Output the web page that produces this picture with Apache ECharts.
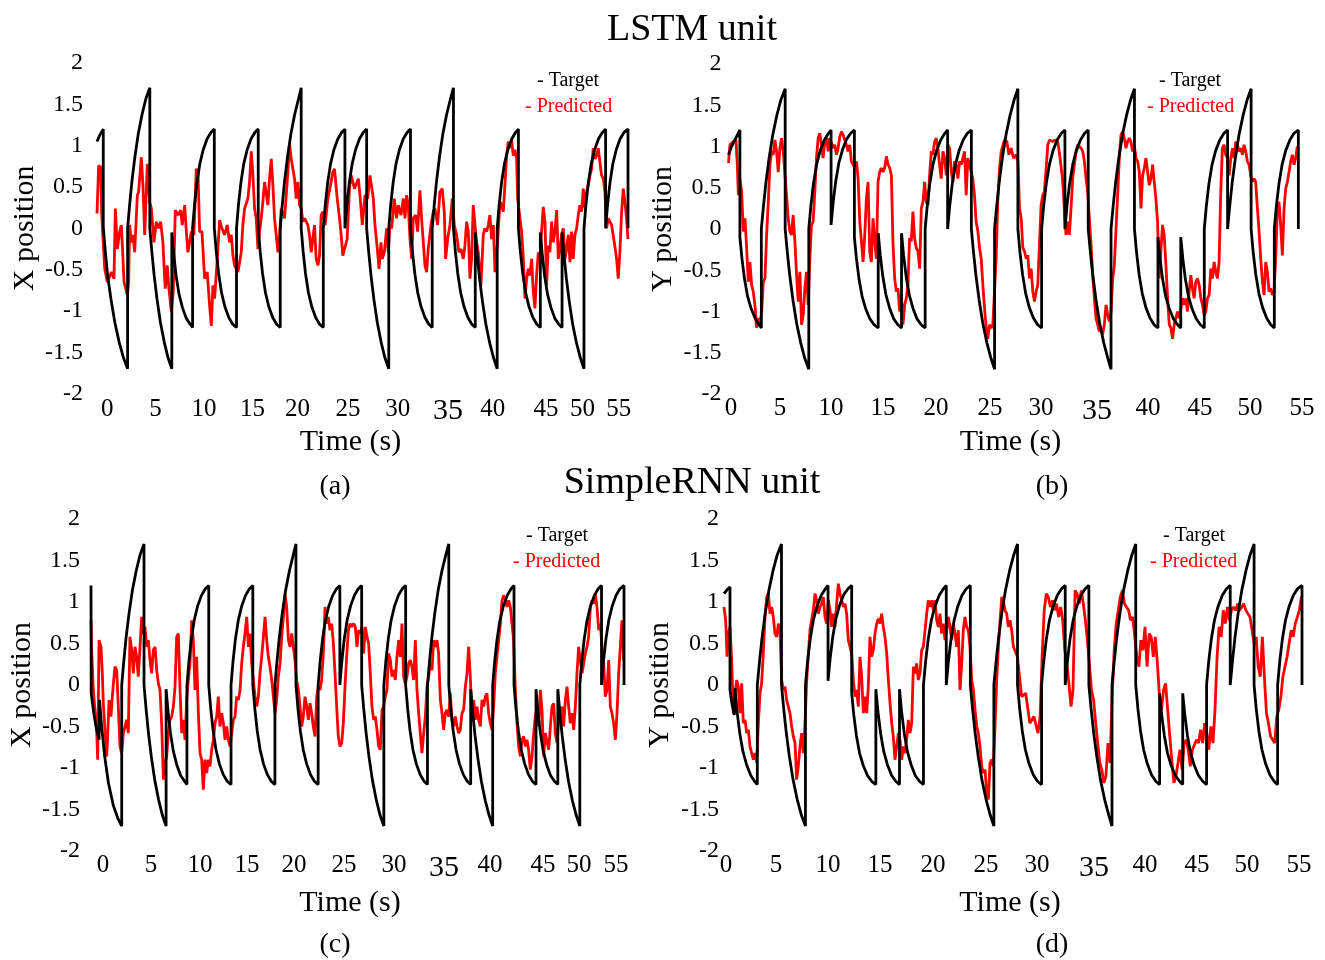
<!DOCTYPE html>
<html>
<head>
<meta charset="utf-8">
<script src="https://cdn.jsdelivr.net/npm/echarts@6/dist/echarts.min.js"></script>
<style>html,body{margin:0;padding:0;background:#fff;}#chart{width:1325px;height:960px;}</style>
</head>
<body>
<div id="chart"></div>
<script>
// ---------- tick labels ----------
const xTickLabels = ['0','5','10','15','20','25','30','35','40','45','50','55'];
const xTickPosA = [1.07, 6.06, 11.08, 16.1, 20.78, 26.0, 31.15, 36.35, 41.0, 46.5, 50.3, 54.03];
const xTickPosB = [0.24, 4.97, 9.89, 14.91, 20.03, 25.24, 30.16, 35.57, 40.49, 45.51, 50.34, 55.36];
const xTickPosC = [1.24, 6.19, 11.25, 16.1, 20.95, 26.11, 31.27, 36.43, 41.18, 46.65, 50.36, 54.18];
const xTickPosD = [0.19, 4.95, 9.9, 14.84, 19.89, 24.93, 29.78, 35.2, 40.06, 45.0, 49.76, 54.71];

// ---------- target trajectories ----------
// sample times of each movement segment (shared by X and Y targets)
const segTimes = [
[3.17,3.37,3.62,3.92,4.27,4.67,5.07,5.47],
[5.47,5.67,5.92,6.22,6.57,6.97,7.37,7.75],
[7.75,7.95,8.2,8.5,8.85,9.25,9.65,9.9],
[9.9,10.1,10.35,10.65,11.0,11.4,11.8,12.15],
[12.15,12.35,12.6,12.9,13.25,13.65,14.05,14.45],
[14.45,14.65,14.9,15.2,15.55,15.95,16.35,16.7],
[16.7,16.9,17.15,17.45,17.8,18.2,18.6,18.98],
[18.98,19.18,19.43,19.73,20.08,20.48,20.88,21.15],
[21.15,21.35,21.6,21.9,22.25,22.65,23.05,23.44],
[23.44,23.64,23.89,24.19,24.54,24.94,25.34,25.68],
[25.68,25.88,26.13,26.43,26.78,27.18,27.58,27.93],
[27.93,28.13,28.38,28.68,29.03,29.43,29.83,30.22],
[30.22,30.42,30.67,30.97,31.32,31.72,32.12,32.47],
[32.47,32.67,32.92,33.22,33.57,33.97,34.37,34.72],
[34.72,34.92,35.17,35.47,35.82,36.22,36.62,36.92],
[36.92,37.12,37.37,37.67,38.02,38.42,38.82,39.18],
[39.18,39.38,39.63,39.93,40.28,40.68,41.08,41.45],
[41.45,41.65,41.9,42.2,42.55,42.95,43.35,43.65],
[43.65,43.85,44.1,44.4,44.75,45.15,45.55,45.92],
[45.92,46.12,46.37,46.67,47.02,47.42,47.82,48.17],
[48.17,48.37,48.62,48.92,49.27,49.67,50.07,50.44],
[50.44,50.64,50.89,51.19,51.54,51.94,52.34,52.68],
[52.68,52.88,53.13,53.43,53.78,54.18,54.58,55.0]
];
// values read along each segment type
const P12 = [0, 0.28, 0.55, 0.78, 0.95, 1.08, 1.16, 1.2];
const N12 = [0, -0.28, -0.55, -0.78, -0.95, -1.08, -1.16, -1.2];
const P17 = [0, 0.27, 0.57, 0.86, 1.14, 1.38, 1.57, 1.7];
const N17 = [0, -0.27, -0.57, -0.86, -1.14, -1.38, -1.57, -1.7];
const N12b = [-0.05, -0.32, -0.58, -0.8, -0.96, -1.09, -1.16, -1.2];
const N12c = [-0.1, -0.36, -0.61, -0.82, -0.97, -1.09, -1.16, -1.2];
const N17b = [-0.05, -0.32, -0.61, -0.89, -1.16, -1.39, -1.57, -1.7];
const P12b = [0.05, 0.32, 0.58, 0.8, 0.96, 1.09, 1.16, 1.2];

const targetXSegs = [P17, N17, N12b, P12, N12, P12, N12, P17, N12, P12, P12, N17, P12, N12, P17, N12, N17b, P12, N12, N12b, N17b, P12, P12];
const targetYSegs = [P17, N17, P12, P12b, N12c, N12b, N12b, P12, P12, N17, P17, N12, P12, P12, N17, P17, N12, N12c, N12c, P12, P17, N12, P12];

const targetXHeadLSTM = [[0,1.05],[0.3,1.13],[0.65,1.2],[0.65,0.02],[0.85,-0.27],[1.1,-0.57],[1.45,-0.86],[1.85,-1.14],[2.3,-1.38],[2.75,-1.57],[3.17,-1.7]];
const targetYHeadLSTM = [[0,0.9],[0.3,1.0],[0.7,1.1],[1.1,1.2],[1.1,-0.1],[1.3,-0.36],[1.55,-0.61],[1.85,-0.82],[2.2,-0.97],[2.6,-1.09],[2.95,-1.16],[3.17,-1.2]];
const targetXHeadRNN = [[0,1.2],[0.02,-0.1],[0.3,-0.35],[0.55,-0.52],[0.83,-0.66],[0.88,-0.18],[1.1,-0.5],[1.4,-0.85],[1.8,-1.18],[2.3,-1.45],[2.75,-1.6],[3.17,-1.7]];
const targetYHeadRNN = [[0,1.1],[0.3,1.15],[0.57,1.18],[0.57,-0.06],[0.75,-0.22],[0.98,-0.36],[1.05,-0.04],[1.25,-0.33],[1.5,-0.58],[1.8,-0.8],[2.15,-0.96],[2.55,-1.09],[2.9,-1.16],[3.17,-1.2]];
const targetEnd = [55, 0];

// ---------- predicted trajectories ----------
const predXLSTM = [[0,0.18],[0.17,0.76],[0.38,0.74],[0.48,0.18],[0.8,-0.49],[1.07,-0.65],[1.21,-0.67],[1.49,-0.53],[1.76,-0.61],[1.9,0.24],[2.11,-0.25],[2.35,-0.04],[2.52,0.04],[2.66,-0.29],[2.8,-0.65],[3.14,-0.81],[3.28,-0.65],[3.38,0.04],[3.56,-0.17],[3.73,-0.08],[3.9,-0.29],[4.18,0.4],[4.31,0.44],[4.59,0.86],[4.76,0.52],[4.94,-0.08],[5.21,0.78],[5.45,0.32],[5.63,0.24],[5.9,-0.17],[6.14,0.08],[6.38,0],[6.59,0.08],[6.83,-0.17],[6.94,-0.45],[7.07,-0.73],[7.28,-0.45],[7.42,-0.69],[7.7,-1.01],[7.9,-0.77],[8.11,0.22],[8.39,0.16],[8.66,0.22],[8.83,0.04],[9.08,0.28],[9.28,-0.08],[9.42,-0.29],[9.77,-0.04],[10.04,-0.08],[10.28,0.72],[10.46,0.68],[10.63,-0.04],[10.87,-0.04],[11.15,-0.61],[11.42,-0.53],[11.66,-0.93],[11.84,-1.18],[12.01,-0.69],[12.18,-0.85],[12.46,-0.37],[12.7,0.1],[12.94,0],[13.22,-0.08],[13.49,0.04],[13.73,-0.17],[13.91,-0.08],[14.08,-0.33],[14.25,-0.45],[14.6,-0.53],[14.94,-0.29],[15.11,0.04],[15.29,0.24],[15.63,0.36],[15.8,0.56],[15.98,0.93],[16.15,0.64],[16.32,0.24],[16.49,0.12],[16.67,-0.25],[16.84,-0.04],[17.01,0.12],[17.18,0.32],[17.36,0.56],[17.7,0.28],[17.87,0.6],[18.05,0.84],[18.22,0.52],[18.39,0.12],[18.56,-0.08],[18.74,-0.29],[18.91,-0.08],[19.08,0.24],[19.43,0.12],[19.77,0.68],[19.94,1.03],[20.12,0.84],[20.46,0.6],[20.63,0.36],[20.81,0.56],[20.98,0.28],[21.15,0.24],[21.32,0.08],[21.5,0.12],[21.84,0.04],[22.01,-0.08],[22.19,-0.29],[22.53,0.04],[22.7,-0.37],[22.88,-0.45],[23.05,-0.33],[23.22,0.16],[23.39,0.2],[23.63,0.04],[23.91,0.36],[24.19,0.52],[24.43,0.68],[24.6,0.72],[24.88,0.36],[25.12,0.12],[25.29,-0.08],[25.46,-0.33],[25.64,-0.25],[25.91,-0.13],[26.15,0.48],[26.33,0.64],[26.67,0.48],[27.07,0.6],[27.24,0.4],[27.48,0.04],[27.76,0.4],[28.03,0.36],[28.27,0.64],[28.62,0.36],[28.79,0.04],[29.07,-0.29],[29.21,-0.49],[29.41,-0.17],[29.55,-0.37],[29.76,-0.29],[30,0],[30.17,-0.29],[30.34,0.04],[30.52,0],[30.79,0.36],[31.03,0.12],[31.21,0.28],[31.48,0.16],[31.73,0.36],[31.9,0.12],[32.07,0.4],[32.24,0.28],[32.42,-0.13],[32.59,-0.37],[32.76,0.12],[33,0.16],[33.21,-0.04],[33.45,0.46],[33.62,0.12],[33.8,-0.17],[33.97,-0.45],[34.14,-0.53],[34.31,-0.25],[34.59,0.04],[34.83,0.2],[35,0.24],[35.28,0.04],[35.52,0.44],[35.76,0.48],[35.97,0.2],[36.11,-0.37],[36.32,-0.13],[36.56,0.04],[36.8,0.36],[37.01,0.04],[37.25,-0.08],[37.49,-0.29],[37.7,-0.25],[37.94,-0.37],[38.11,-0.21],[38.28,0.08],[38.46,-0.04],[38.63,-0.61],[38.8,-0.37],[38.97,0.28],[39.15,0.04],[39.32,-0.17],[39.49,-0.29],[39.77,-0.69],[40.01,-0.08],[40.18,0],[40.36,-0.04],[40.53,0.04],[40.7,0.16],[40.87,-0.13],[41.05,0.04],[41.22,-0.53],[41.49,-0.17],[41.74,0.32],[41.91,0.28],[42.08,0.2],[42.25,0.52],[42.43,0.88],[42.6,1.05],[42.77,0.97],[42.94,1.07],[43.12,0.88],[43.29,0.95],[43.46,0.84],[43.57,0.36],[43.81,0.12],[43.98,-0.04],[44.15,-0.33],[44.33,-0.85],[44.5,-0.61],[44.67,-0.49],[44.84,-0.57],[45.02,-0.37],[45.19,-0.77],[45.36,-0.97],[45.53,-0.57],[45.71,-0.29],[45.88,-0.37],[46.05,-0.04],[46.22,0.26],[46.4,0.08],[46.57,-0.69],[46.74,-0.21],[46.91,-0.29],[47.09,0.08],[47.26,-0.17],[47.43,-0.04],[47.61,0.22],[47.78,-0.37],[47.95,-0.25],[48.12,-0.08],[48.3,0],[48.47,-0.37],[48.64,-0.25],[48.81,-0.08],[48.99,-0.41],[49.16,-0.04],[49.33,-0.37],[49.5,-0.08],[49.68,0],[49.85,0.16],[50.02,0.28],[50.19,0.2],[50.37,0.48],[50.54,0.24],[50.71,0.44],[50.88,0.52],[51.06,0.64],[51.23,0.72],[51.4,0.97],[51.57,0.84],[51.75,0.88],[51.92,0.97],[52.09,0.8],[52.26,0.64],[52.44,0.6],[52.61,0.44],[52.78,0],[52.95,0.12],[53.3,0.04],[53.58,-0.17],[53.82,-0.37],[53.99,-0.61],[54.16,-0.29],[54.34,0.2],[54.51,0.48],[54.68,0.32],[54.85,0.12],[55,-0.13]];

const predYLSTM = [[0,0.8],[0.14,1.02],[0.47,1.06],[0.72,1.08],[0.85,0.78],[0.95,0.41],[1.11,0.61],[1.27,0.45],[1.43,-0.03],[1.59,0.13],[1.75,-0.23],[1.91,-0.64],[2.07,-0.4],[2.23,-0.68],[2.39,-0.76],[2.55,-0.92],[2.71,-1.2],[2.87,-1.08],[3.03,-1.16],[3.2,-1],[3.36,-0.64],[3.52,-0.6],[3.68,-0.07],[3.84,0.33],[4,0.78],[4.16,0.94],[4.32,0.9],[4.48,1.08],[4.64,0.94],[4.8,0.69],[4.96,0.98],[5.12,1.1],[5.28,0.94],[5.44,0.94],[5.6,0.41],[5.76,0.13],[5.92,-0.03],[6.08,-0.07],[6.24,0.17],[6.41,-0.15],[6.57,-0.56],[6.73,-0.88],[6.89,-0.52],[7.05,-1.16],[7.21,-1.04],[7.37,-0.72],[7.53,-0.52],[7.69,-0.92],[7.85,-0.36],[8.01,0.05],[8.17,0.09],[8.33,0.45],[8.49,0.86],[8.65,1.1],[8.81,1.16],[8.97,1.02],[9.13,0.86],[9.3,1.06],[9.46,1.12],[9.62,0.94],[9.78,1.1],[10.1,0.98],[10.26,1.02],[10.42,0.9],[10.58,0.98],[10.74,1.12],[10.9,1.18],[11.06,1.14],[11.22,1.16],[11.38,1.02],[11.54,0.94],[11.7,1.02],[11.86,0.82],[12.02,0.78],[12.19,0.74],[12.35,0.82],[12.51,0.61],[12.67,0.09],[12.83,-0.15],[12.99,-0.4],[13.15,-0.07],[13.31,0.37],[13.47,0.57],[13.63,-0.27],[13.79,-0.4],[13.95,0.13],[14.11,-0.15],[14.27,-0.36],[14.43,0.57],[14.59,0.69],[14.75,0.74],[14.91,0.69],[15.07,0.74],[15.24,0.88],[15.4,0.78],[15.56,0.74],[15.72,0.65],[15.88,-0.19],[16.04,-0.6],[16.2,-0.76],[16.36,-0.72],[16.52,-1],[16.68,-0.8],[16.84,-1.16],[17,-0.92],[17.16,-0.84],[17.32,-0.68],[17.48,-0.11],[17.64,-0.15],[17.8,0.21],[17.96,-0.11],[18.12,-0.23],[18.29,-0.27],[18.45,-0.48],[18.61,0.25],[18.77,0.33],[18.93,0.57],[19.09,0.33],[19.25,0.29],[19.41,0.65],[19.57,0.94],[19.73,0.9],[19.89,1.06],[20.05,1.1],[20.21,0.98],[20.37,0.78],[20.53,0.61],[20.7,0.94],[20.86,0.86],[21.02,0.65],[21.18,1.02],[21.34,0.98],[21.5,0.69],[21.66,0.57],[21.82,0.82],[21.98,0.78],[22.14,0.61],[22.3,0.82],[22.46,0.78],[22.62,0.86],[22.78,0.94],[22.94,0.41],[23.1,0.86],[23.26,0.78],[23.42,0.69],[23.58,0.61],[23.74,0.41],[23.9,0.09],[24.07,-0.03],[24.23,-0.23],[24.39,-0.36],[24.55,-0.68],[24.71,-0.96],[24.87,-1.2],[25.03,-1.33],[25.19,-1.16],[25.35,-1.2],[25.51,-1.16],[25.67,-0.76],[25.83,-0.36],[25.99,0.33],[26.16,0.74],[26.32,0.94],[26.64,1.08],[26.87,1.06],[27.06,0.9],[27.28,0.98],[27.51,0.86],[27.77,0.9],[27.93,0.82],[28.09,0.25],[28.25,0.13],[28.41,-0.23],[28.57,-0.27],[28.73,-0.36],[28.89,-0.32],[29.05,-0.6],[29.21,-0.48],[29.37,-0.76],[29.53,-0.88],[29.69,-0.76],[29.85,-0.68],[30.01,-0.19],[30.17,0.29],[30.33,0.41],[30.49,0.45],[30.66,0.74],[30.82,1.02],[30.98,1.08],[31.3,1.06],[31.55,1.08],[31.78,1.06],[32,0.86],[32.2,0.65],[32.33,0.45],[32.45,0.13],[32.58,-0.07],[32.74,0.09],[32.9,-0.07],[33.06,0.25],[33.22,0.61],[33.38,0.78],[33.55,0.94],[33.71,1.02],[33.87,1.04],[34.03,0.98],[34.19,0.94],[34.35,0.82],[34.51,0.61],[34.67,0.45],[34.83,0.13],[34.99,-0.19],[35.15,-0.56],[35.31,-0.84],[35.47,-1.08],[35.63,-1.16],[35.79,-1.24],[35.95,-1.2],[36.11,-1.28],[36.27,-1.16],[36.44,-0.92],[36.6,-1.04],[36.76,-1.12],[36.92,-1],[37.08,-0.6],[37.24,-0.44],[37.4,0],[37.56,0.41],[37.72,0.86],[37.88,1.14],[38.04,1.18],[38.2,1.1],[38.36,0.98],[38.52,1.06],[38.68,1.1],[38.84,1.06],[39,0.94],[39.16,1.02],[39.33,0.86],[39.49,0.82],[39.65,0.69],[39.81,0.25],[39.97,0.65],[40.13,0.74],[40.29,0.86],[40.45,0.86],[40.61,0.53],[40.77,0.61],[40.93,0.78],[41.09,0.57],[41.25,0.37],[41.41,0.09],[41.57,-0.6],[41.73,-0.27],[41.89,0.05],[42.05,-0.07],[42.22,-0.44],[42.38,-0.84],[42.54,-1.16],[42.7,-1.2],[42.86,-1.33],[43.02,-1.16],[43.18,-1.08],[43.34,-1],[43.5,-1.08],[43.66,-0.96],[43.82,-0.84],[43.98,-0.92],[44.14,-0.84],[44.3,-1],[44.46,-0.76],[44.62,-0.56],[44.78,-0.72],[44.94,-0.84],[45.1,-0.64],[45.27,-0.6],[45.43,-0.68],[45.59,-0.84],[45.75,-0.92],[45.91,-1.04],[46.07,-1],[46.23,-0.84],[46.39,-0.8],[46.55,-0.48],[46.71,-0.6],[46.87,-0.4],[47.03,-0.52],[47.19,-0.6],[47.35,-0.4],[47.51,0.45],[47.67,0.98],[47.83,1.02],[47.99,0.9],[48.16,0.86],[48.32,0.65],[48.48,0.86],[48.64,0.98],[48.8,0.86],[48.96,1.06],[49.12,1.02],[49.28,0.94],[49.44,0.98],[49.6,0.9],[49.76,1.02],[49.92,0.94],[50.08,0.82],[50.24,0.78],[50.4,0.65],[50.56,0.57],[50.72,0.61],[50.88,0.57],[51.05,0.25],[51.21,-0.03],[51.37,-0.36],[51.53,-0.64],[51.69,-0.8],[51.85,-0.4],[52.01,-0.52],[52.17,-0.76],[52.33,-0.72],[52.49,-0.8],[52.65,-0.76],[52.81,-0.36],[52.97,0.21],[53.13,0.33],[53.29,0.05],[53.46,-0.32],[53.62,0.25],[53.78,0.49],[53.94,0.57],[54.1,0.69],[54.26,0.82],[54.42,0.9],[54.58,0.78],[54.74,0.86],[54.9,1.0]];

const predXRNN = [[0,0.78],[0.05,0.46],[0.24,-0.06],[0.41,-0.06],[0.58,-0.54],[0.69,-0.9],[0.83,0.54],[1.03,0.46],[1.17,0.14],[1.27,-0.22],[1.44,-0.54],[1.62,-0.86],[1.72,-0.62],[1.86,-0.18],[2.06,-0.38],[2.2,-0.14],[2.34,0.06],[2.48,0.22],[2.65,0.18],[2.82,-0.26],[2.99,-0.74],[3.16,-0.82],[3.34,-0.58],[3.51,-0.5],[3.68,-0.42],[3.85,-0.58],[4.02,0.58],[4.2,0.42],[4.37,0.14],[4.54,0.46],[4.71,0.34],[4.88,0.1],[5.06,0.46],[5.23,0.82],[5.4,0.62],[5.57,0.7],[5.75,0.46],[5.92,0.54],[6.09,0.3],[6.26,0.14],[6.43,0.42],[6.61,0.46],[6.78,0.18],[6.95,0.02],[7.12,-0.06],[7.29,-0.46],[7.47,-1.14],[7.64,-0.94],[7.81,-0.86],[7.98,-0.58],[8.15,-0.42],[8.33,-0.38],[8.5,-0.26],[8.67,-0.02],[8.84,0.58],[9.01,0.62],[9.19,-0.06],[9.36,-0.58],[9.53,-0.42],[9.7,-0.66],[9.87,-0.18],[10.04,0.06],[10.22,0.26],[10.39,0.78],[10.56,0.54],[10.73,-0.06],[10.9,0.34],[11.08,-0.34],[11.25,-0.82],[11.42,-0.9],[11.59,-1.26],[11.76,-0.9],[11.94,-1.06],[12.11,-0.9],[12.28,-0.98],[12.45,-0.78],[12.63,-0.66],[12.8,-0.46],[12.97,-0.38],[13.14,-0.14],[13.31,-0.5],[13.49,-0.34],[13.66,-0.46],[13.83,-0.66],[14,-0.5],[14.17,-0.66],[14.35,-0.74],[14.52,-0.58],[14.69,-0.42],[14.86,-0.38],[15.03,-0.14],[15.21,-0.18],[15.38,-0.06],[15.55,0.26],[15.72,0.46],[15.89,0.62],[16.07,0.82],[16.24,0.46],[16.41,0.62],[16.58,0.26],[16.75,0.06],[16.93,-0.14],[17.1,-0.26],[17.27,-0.14],[17.44,0.14],[17.61,0.34],[17.79,0.58],[17.96,0.82],[18.13,0.54],[18.3,0.34],[18.47,0.22],[18.65,0.06],[18.82,-0.14],[18.99,-0.34],[19.16,-0.18],[19.33,0.1],[19.51,0.26],[19.68,0.58],[19.85,0.82],[20.02,1.1],[20.19,0.94],[20.37,0.54],[20.54,0.46],[20.71,0.62],[20.88,0.46],[21.05,0.3],[21.22,0.06],[21.4,-0.06],[21.57,-0.26],[21.74,-0.5],[21.91,-0.38],[22.08,-0.14],[22.26,-0.26],[22.43,-0.42],[22.6,-0.22],[22.77,-0.34],[22.94,-0.5],[23.12,-0.62],[23.29,-0.14],[23.46,-0.02],[23.63,-0.06],[23.8,0.06],[23.98,0.38],[24.15,0.94],[24.32,0.74],[24.49,0.82],[24.66,0.66],[24.84,0.74],[25.01,0.5],[25.18,0.14],[25.35,-0.26],[25.52,-0.62],[25.7,-0.74],[25.87,-0.7],[26.04,-0.46],[26.21,-0.02],[26.38,0.34],[26.56,0.66],[26.73,0.74],[26.9,0.7],[27.1,0.74],[27.27,0.7],[27.45,0.46],[27.62,0.66],[27.79,0.62],[27.96,0.7],[28.13,0.38],[28.31,0.7],[28.48,0.58],[28.65,0.5],[28.82,0.14],[28.99,-0.26],[29.17,-0.42],[29.34,-0.38],[29.51,-0.54],[29.68,-0.74],[29.85,-0.78],[30.03,-0.3],[30.2,-0.26],[30.37,-0.14],[30.54,-0.06],[30.71,0.38],[30.89,0.3],[31.06,0.1],[31.23,0.18],[31.4,0.06],[31.57,0.34],[31.75,0.54],[31.92,0.34],[32.09,0.74],[32.26,0.1],[32.43,0.02],[32.61,0.1],[32.78,0.26],[32.95,0.3],[33.12,0.22],[33.29,0.06],[33.47,0.54],[33.64,-0.06],[33.81,-0.34],[33.98,-0.58],[34.15,-0.82],[34.33,-0.58],[34.5,-0.38],[34.67,-0.02],[34.84,0.1],[35.01,0.26],[35.19,0.18],[35.36,0.54],[35.53,0.46],[35.7,0.54],[35.87,0.38],[36.05,-0.18],[36.22,-0.34],[36.39,-0.54],[36.56,-0.34],[36.73,-0.3],[36.91,-0.38],[37.08,-0.1],[37.25,-0.42],[37.42,-0.5],[37.59,-0.38],[37.77,-0.5],[37.94,-0.58],[38.11,-0.54],[38.28,-0.34],[38.45,-0.3],[38.63,-0.02],[38.8,0.14],[38.97,0.46],[39.14,0.1],[39.31,-0.38],[39.49,-0.18],[39.66,-0.42],[39.83,-0.26],[40,-0.42],[40.17,-0.5],[40.35,-0.18],[40.52,-0.26],[40.69,-0.14],[40.86,-0.1],[41.03,-0.34],[41.21,-0.46],[41.38,-0.54],[41.55,-0.26],[41.72,0.14],[41.89,0.34],[42.07,0.54],[42.24,0.74],[42.41,1.02],[42.58,1.08],[42.75,1.02],[42.93,0.94],[43.1,1.02],[43.27,0.94],[43.44,0.74],[43.61,0.54],[43.79,-0.06],[43.96,-0.46],[44.13,-0.74],[44.3,-0.86],[44.47,-0.66],[44.65,-0.62],[44.82,-0.74],[44.99,-0.66],[45.16,-0.78],[45.33,-1.02],[45.51,-0.86],[45.68,-0.58],[45.85,-0.38],[46.02,-0.26],[46.19,-0.5],[46.37,-0.06],[46.54,-0.3],[46.71,-0.86],[46.88,-0.58],[47.05,-0.58],[47.23,-0.78],[47.4,-0.5],[47.57,-0.26],[47.74,-0.22],[47.91,-0.58],[48.09,-0.7],[48.26,-0.42],[48.43,-0.34],[48.6,-0.26],[48.77,-0.5],[48.95,-0.18],[49.12,-0.02],[49.29,-0.26],[49.46,-0.46],[49.63,-0.34],[49.81,-0.54],[49.98,-0.26],[50.15,0.14],[50.32,0.46],[50.49,0.3],[50.67,0.14],[50.84,0.26],[51.01,0.38],[51.18,0.46],[51.35,0.58],[51.53,0.94],[51.7,1.02],[51.87,0.98],[52.04,1.1],[52.21,0.94],[52.39,0.66],[52.56,0.74],[52.73,0.46],[52.9,0.26],[53.07,-0.14],[53.25,-0.06],[53.42,0.3],[53.59,-0.26],[53.76,-0.34],[53.93,-0.46],[54.11,-0.66],[54.28,-0.34],[54.45,0.14],[54.62,0.46],[54.79,0.78],[54.97,0.3]];

const predYRNN = [[0,0.94],[0.16,0.78],[0.29,0.34],[0.41,0.62],[0.57,0.7],[0.73,0.3],[0.89,-0.34],[1.05,-0.1],[1.21,0.06],[1.36,-0.02],[1.52,-0.34],[1.68,0.02],[1.84,-0.46],[2,-0.42],[2.16,-0.58],[2.32,-0.54],[2.47,-0.74],[2.63,-0.82],[2.79,-0.9],[2.95,-0.82],[3.11,-0.94],[3.27,-0.46],[3.43,-0.1],[3.58,0.02],[3.74,0.38],[3.9,0.82],[4.06,1.06],[4.22,1.1],[4.38,0.86],[4.54,0.94],[4.69,0.82],[4.85,0.62],[5.01,0.58],[5.17,0.74],[5.33,0.62],[5.49,0.06],[5.65,-0.06],[5.8,-0.02],[5.96,-0.18],[6.12,-0.26],[6.28,-0.34],[6.44,-0.5],[6.6,-0.62],[6.76,-0.7],[6.91,-1.14],[7.07,-0.98],[7.23,-0.74],[7.39,-0.58],[7.55,-0.82],[7.71,-0.46],[7.87,0.06],[8.03,0.38],[8.18,0.66],[8.34,0.78],[8.5,0.9],[8.66,1.1],[8.82,1.02],[8.98,0.86],[9.14,0.94],[9.29,0.98],[9.45,1.06],[9.61,0.82],[9.77,0.74],[9.93,1.02],[10.09,0.9],[10.25,0.7],[10.4,0.86],[10.56,0.7],[10.72,0.98],[10.88,1.22],[11.04,1.1],[11.2,1.02],[11.36,0.94],[11.51,0.98],[11.67,0.86],[11.83,0.54],[11.99,0.46],[12.15,0.38],[12.31,0.06],[12.47,-0.14],[12.62,-0.06],[12.78,-0.26],[12.94,0.34],[13.1,0.1],[13.26,-0.34],[13.42,-0.14],[13.58,-0.34],[13.73,-0.02],[13.89,0.58],[14.05,0.34],[14.21,0.42],[14.37,0.62],[14.53,0.74],[14.69,0.8],[14.84,0.74],[15,0.86],[15.16,0.7],[15.32,0.58],[15.48,0.38],[15.64,0.06],[15.8,-0.22],[15.96,-0.46],[16.11,-0.62],[16.27,-0.9],[16.43,-0.74],[16.59,-0.58],[16.75,-0.66],[16.91,-0.9],[17.07,-0.74],[17.22,-0.82],[17.38,-0.66],[17.54,-0.42],[17.7,-0.58],[17.86,-0.46],[18.02,0.22],[18.18,0.14],[18.33,0.26],[18.49,0.06],[18.65,0.14],[18.81,0.42],[18.97,0.46],[19.13,0.66],[19.29,0.86],[19.44,1.02],[19.6,0.94],[19.76,1.02],[19.92,0.9],[20.08,1.02],[20.24,0.78],[20.4,0.7],[20.55,0.86],[20.71,0.62],[20.87,0.74],[21.03,0.54],[21.19,0.66],[21.35,0.82],[21.51,0.7],[21.66,0.54],[21.82,0.74],[21.98,0.62],[22.14,0.46],[22.3,0.66],[22.46,-0.06],[22.62,0.26],[22.77,0.66],[22.93,0.82],[23.09,0.7],[23.25,0.66],[23.41,0.46],[23.57,0.06],[23.73,-0.06],[23.89,-0.3],[24.05,-0.5],[24.2,-0.58],[24.36,-0.74],[24.52,-0.98],[24.68,-1.06],[24.84,-1.02],[25,-1.3],[25.16,-1.38],[25.31,-0.94],[25.47,-0.9],[25.63,-0.98],[25.79,-0.5],[25.95,0.06],[26.11,0.46],[26.27,0.78],[26.43,1.06],[26.58,1.02],[26.74,0.9],[26.9,0.86],[27.06,0.7],[27.22,0.78],[27.38,0.66],[27.54,0.46],[27.92,0.34],[28.32,-0.14],[28.71,-0.1],[29.1,-0.46],[29.49,-0.38],[29.88,-0.58],[30.08,-0.38],[30.27,0.34],[30.47,0.9],[30.67,1.1],[30.86,1.06],[31.06,0.94],[31.25,1.02],[31.45,0.9],[31.64,0.98],[31.84,0.82],[32.04,0.94],[32.23,0.78],[32.43,0.42],[32.62,0.26],[32.82,0.02],[33.02,-0.26],[33.21,-0.06],[33.41,1.14],[33.6,1.1],[33.8,0.98],[34,1.14],[34.19,0.98],[34.39,0.78],[34.58,0.54],[34.97,-0.06],[35.17,-0.18],[35.37,-0.46],[35.56,-0.7],[35.76,-0.94],[35.95,-1.02],[36.15,-1.18],[36.34,-1.1],[36.54,-0.7],[36.74,-0.94],[36.93,-0.14],[37.13,0.42],[37.32,0.74],[37.52,0.9],[37.71,1.06],[37.91,1.14],[38.11,0.98],[38.3,0.94],[38.5,0.9],[38.69,0.78],[38.89,0.82],[39.09,0.58],[39.28,0.34],[39.48,0.22],[39.67,0.54],[39.87,0.42],[40.06,0.7],[40.26,0.22],[40.46,0.62],[40.65,0.58],[40.85,0.34],[41.04,0.58],[41.24,0.26],[41.44,-0.14],[41.63,-0.3],[41.83,-0.06],[42.02,0.02],[42.22,-0.3],[42.42,-0.62],[42.61,-0.9],[42.81,-1.18],[43,-1.1],[43.2,-0.94],[43.39,-0.78],[43.59,-1.02],[43.79,-0.7],[43.98,-0.66],[44.18,-0.78],[44.37,-0.98],[44.57,-0.78],[44.76,-0.78],[44.96,-0.66],[45.16,-0.7],[45.35,-0.54],[45.55,-0.7],[45.74,-0.46],[45.94,-0.58],[46.13,-0.78],[46.33,-0.5],[46.53,-0.7],[46.72,-0.3],[46.92,0.34],[47.11,0.7],[47.31,0.58],[47.51,0.9],[47.7,0.74],[47.9,0.94],[48.09,0.78],[48.29,0.9],[48.48,0.94],[48.68,0.9],[48.88,0.98],[49.07,0.9],[49.27,0.94],[49.46,0.98],[49.66,0.9],[49.85,0.86],[50.05,0.82],[50.25,0.66],[50.44,0.5],[50.64,0.58],[50.83,0.22],[51.03,0.1],[51.23,0.58],[51.42,0.1],[51.62,-0.34],[51.81,-0.46],[52.01,-0.62],[52.21,-0.66],[52.4,-0.7],[52.6,-0.38],[52.79,-0.3],[52.99,-0.14],[53.18,0.1],[53.38,0.22],[53.58,0.34],[53.77,0.5],[53.97,0.66],[54.16,0.58],[54.36,0.74],[54.56,0.82],[54.75,0.9],[54.95,1.06]];

// ---------- build ----------
function buildTarget(head, segs) {
  const pts = head.slice();
  segs.forEach((vals, i) => segTimes[i].forEach((t, j) => pts.push([t, vals[j]])));
  pts.push(targetEnd);
  return pts;
}
const targets = [
  buildTarget(targetXHeadLSTM, targetXSegs),
  buildTarget(targetYHeadLSTM, targetYSegs),
  buildTarget(targetXHeadRNN, targetXSegs),
  buildTarget(targetYHeadRNN, targetYSegs)
];
const preds = [predXLSTM, predYLSTM, predXRNN, predYRNN];
const tickPos = [xTickPosA, xTickPosB, xTickPosC, xTickPosD];

const FONT = 'Liberation Serif';
const grids = [
  {left: 97, top: 63, width: 531, height: 330.6},
  {left: 728.5, top: 64, width: 574, height: 330},
  {left: 91, top: 519, width: 533, height: 332},
  {left: 724, top: 519, width: 578, height: 332}
];
const xMax = [55, 55.4, 55, 55];
const yLabelMargin = [14, 7, 11, 5];
const yNameGap = [57, 50, 54, 49];
const xNameGap = [33, 32, 37, 37];
const xNamePad = [24, 10, 15, 6];
const xLabelMargin = [3, 2, 2, 2];
const yNames = ['X position', 'Y position', 'X position', 'Y position'];

function makeFmt(pos) {
  return function (v) {
    let best = 0, bd = Infinity;
    pos.forEach((p, i) => { const d = Math.abs(p - v); if (d < bd) { bd = d; best = i; } });
    const lab = xTickLabels[best];
    return lab === '35' ? '{big|35}' : lab;
  };
}

const txt = (size, color) => ({fontFamily: FONT, fontSize: size, fontWeight: 'normal', color: color || '#000'});

const titles = [
  {text: 'LSTM unit', left: 692, top: 11, padding: 0, textAlign: 'center', textStyle: txt(38)},
  {text: 'SimpleRNN unit', left: 692, top: 464, padding: 0, textAlign: 'center', textStyle: txt(38)},
  {text: '(a)', left: 335, top: 473, padding: 0, textAlign: 'center', textStyle: txt(28)},
  {text: '(b)', left: 1052, top: 473, padding: 0, textAlign: 'center', textStyle: txt(28)},
  {text: '(c)', left: 335, top: 931, padding: 0, textAlign: 'center', textStyle: txt(28)},
  {text: '(d)', left: 1052, top: 931, padding: 0, textAlign: 'center', textStyle: txt(28)}
];

const legendPos = [
  [[532, 71], [520, 97]],
  [[1154, 71], [1142, 97]],
  [[521, 526], [508, 552]],
  [[1158, 526], [1145, 552]]
];
const legends = [];
legendPos.forEach(pair => {
  legends.push({data: ['Target'], left: pair[0][0], top: pair[0][1], icon: 'none', itemWidth: 0, itemHeight: 10, padding: 0, selectedMode: false, formatter: '- {name}', textStyle: txt(20, '#000')});
  legends.push({data: ['Predicted'], left: pair[1][0], top: pair[1][1], icon: 'none', itemWidth: 0, itemHeight: 10, padding: 0, selectedMode: false, formatter: '- {name}', textStyle: txt(20, '#ff0000')});
});

const xAxes = [], yAxes = [], series = [];
for (let i = 0; i < 4; i++) {
  xAxes.push({
    gridIndex: i, type: 'value', min: 0, max: xMax[i],
    axisLine: {show: false}, axisTick: {show: false, customValues: tickPos[i]}, splitLine: {show: false},
    axisLabel: {customValues: tickPos[i], formatter: makeFmt(tickPos[i]), fontFamily: FONT, fontSize: 25, color: '#000', margin: xLabelMargin[i],
      rich: {big: {fontFamily: FONT, fontSize: 30, color: '#000'}}},
    name: 'Time (s)', nameLocation: 'middle', nameGap: xNameGap[i],
    nameTextStyle: {fontFamily: FONT, fontSize: 30, color: '#000', padding: [0, xNamePad[i], 0, 0]}
  });
  yAxes.push({
    gridIndex: i, type: 'value', min: -2, max: 2, interval: 0.5,
    axisLine: {show: false}, axisTick: {show: false}, splitLine: {show: false},
    axisLabel: {fontFamily: FONT, fontSize: 24, color: '#000', margin: yLabelMargin[i]},
    name: yNames[i], nameLocation: 'middle', nameGap: yNameGap[i],
    nameTextStyle: {fontFamily: FONT, fontSize: 30, color: '#000'}
  });
  series.push({
    name: 'Predicted', type: 'line', xAxisIndex: i, yAxisIndex: i, data: preds[i],
    showSymbol: false, symbol: 'none', lineStyle: {color: '#ff0000', width: 2.8}, itemStyle: {color: '#ff0000'}, z: 2
  });
  series.push({
    name: 'Target', type: 'line', xAxisIndex: i, yAxisIndex: i, data: targets[i],
    showSymbol: false, symbol: 'none', lineStyle: {color: '#000', width: 2.8}, itemStyle: {color: '#000'}, z: 3
  });
}

const chart = echarts.init(document.getElementById('chart'), null, {renderer: 'canvas'});
chart.setOption({
  animation: false,
  backgroundColor: '#ffffff',
  title: titles,
  legend: legends,
  grid: grids,
  xAxis: xAxes,
  yAxis: yAxes,
  series: series
});
</script>
</body>
</html>
